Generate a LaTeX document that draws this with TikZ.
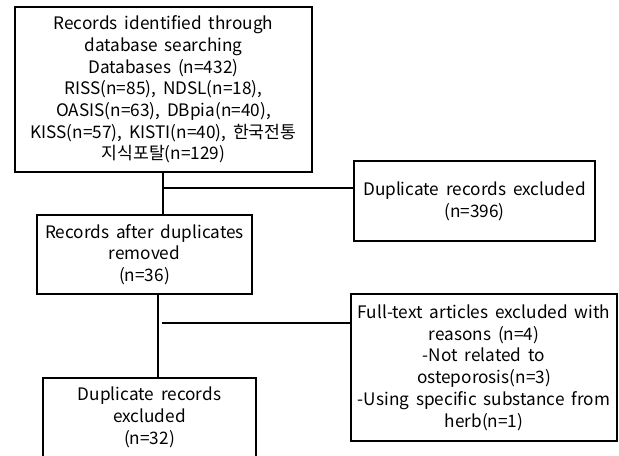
\documentclass[tikz,border=0pt]{standalone}
\usepackage{fontspec}
\setmainfont{Noto Sans CJK KR}
\usetikzlibrary{positioning}
\newcommand{\boxfont}{\fontsize{12.9}{16.3}\selectfont\spaceskip=0.4em plus 0.1em\relax}

\begin{document}
\begin{tikzpicture}[
  x=0.75pt, y=-0.75pt,
  box/.style={
    draw,
    line width=1.9pt,
    align=center,
    font=\boxfont,
    inner sep=0pt
  },
  link/.style={line width=1.4pt}
]
\useasboundingbox (0,0) rectangle (619,455);

% Step 1 - search
\node[box, minimum width=222.75pt, minimum height=123.75pt] (db) at (163.5,89.5) {Records identified through\\ database searching\\ Databases (n=432)\\ RISS(n=85), NDSL(n=18),\\ OASIS(n=63), DBpia(n=40),\\ KISS(n=57), KISTI(n=40), 한국전통\\ 지식포탈(n=129)};
\node[box, minimum width=180.75pt, minimum height=60pt] (dup) at (474.5,201) {Duplicate records excluded\\ (n=396)};

% Step 2 - screening
\node[box, minimum width=161.25pt, minimum height=59.25pt] (after) at (144.5,254.5) {Records after duplicates\\ removed\\ (n=36)};
\node[box, minimum width=199.5pt, minimum height=110.25pt] (full) at (484,367.5) {Full-text articles excluded with\\ reasons (n=4)\\ -Not related to\\ osteporosis(n=3)\\ -Using specific substance from\\ herb(n=1)};

% Step 3 - result
\node[box, minimum width=159.75pt, minimum height=59.25pt] (excl) at (149.5,417.5) {Duplicate records\\ excluded\\ (n=32)};

% Lines
\coordinate (split1) at (163,188);
\coordinate (split2) at (162,323);
\draw[link] (split1 |- db.south) -- (split1 |- after.north);
\draw[link] (split1) -- (split1 -| dup.west);
\draw[link] (158,0 |- after.south) -- (158,0 |- excl.north);
\draw[link] (split2) -- (split2 -| full.west);

\end{tikzpicture}
\end{document}
